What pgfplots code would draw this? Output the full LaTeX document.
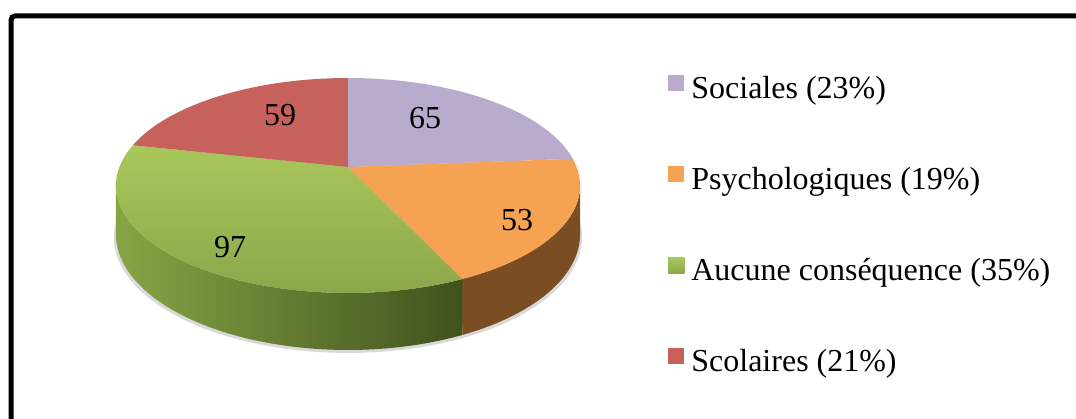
\documentclass[border=0pt]{standalone}
\usepackage{pgfplots}
\pgfplotsset{compat=1.18}
\usepackage{pgfplotstable}
\usepackage{fontspec}
\setmainfont{Liberation Serif}

\definecolor{cSoc}{HTML}{B9ABCE}
\definecolor{cPsy}{HTML}{F5A352}
\definecolor{cAucT}{HTML}{A9C85B}
\definecolor{cAucB}{HTML}{8CA64B}
\definecolor{cSco}{HTML}{C6615C}
\definecolor{cPsySide}{HTML}{7A4D22}
\definecolor{cAucSideL}{HTML}{87A545}
\definecolor{cAucSideR}{HTML}{3F511D}

\pgfplotstableread{
label value
Sociales 65
Psychologiques 53
Aucune 97
Scolaires 59
}\piedata

\pgfplotstablegetelem{0}{value}\of\piedata \let\vA\pgfplotsretval
\pgfplotstablegetelem{1}{value}\of\piedata \let\vB\pgfplotsretval
\pgfplotstablegetelem{2}{value}\of\piedata \let\vC\pgfplotsretval
\pgfplotstablegetelem{3}{value}\of\piedata \let\vD\pgfplotsretval

\pgfmathsetmacro\tot{\vA+\vB+\vC+\vD}
\pgfmathsetmacro\aA{90}
\pgfmathsetmacro\aB{\aA-360*(\vA/\tot)}
\pgfmathsetmacro\aC{\aB-360*(\vB/\tot)}
\pgfmathsetmacro\aD{\aC-360*(\vC/\tot)}
\pgfmathsetmacro\aE{\aD-360*(\vD/\tot)}
\pgfmathsetmacro\aCx{\aC+0.8}

% projection of the tilted disc (pixel units, y up)
\def\cx{348}
\def\cy{251}
\def\RA{228.6}
\def\RB{104.3}
\def\kk{0.1721}
\def\hh{47.2}
\pgfmathsetmacro\sR{-asin(\kk)}
\pgfmathsetmacro\sL{-180+asin(\kk)}

% top face of a slice: #1 style, angles #2 < #3
\newcommand\slice[3]{%
  \addplot[#1, draw=none, domain=#2:#3, samples=90, variable=\t]
  ({\cx+\RA*cos(\t)/(1+\kk*sin(\t))},{\cy+\RB*sin(\t)/(1+\kk*sin(\t))})
  -- (axis cs:\cx,\cy) -- cycle;
}
% side band of a slice: #1 style, angles #2 < #3
\newcommand\side[3]{%
  \addplot[#1, draw=none, forget plot, domain=0:2, samples=241, variable=\t,
    declare function={ph(\s)=(\s<=1)*(#2+(#3-#2)*\s)+(\s>1)*(#3+(#2-#3)*(\s-1));
                      dz(\s)=(\s>1)*\hh;}]
  ({\cx+\RA*cos(ph(\t))/(1+\kk*sin(ph(\t)))},
   {\cy+(\RB*sin(ph(\t))-dz(\t))/(1+\kk*sin(ph(\t)))}) -- cycle;
}

\begin{document}
\begin{tikzpicture}
\begin{axis}[
  scale only axis, width=538pt, height=209pt,
  xmin=0, xmax=1076, ymin=0, ymax=418,
  axis lines=none, ticks=none, clip=false,
  legend image code/.code={\fill[#1] (0pt,-0.5pt) rectangle (8pt,7.5pt); \path (0pt,0pt) -- (11.5pt,0pt);},
  legend cell align=left,
  legend style={at={(axis description cs:0.6208,0.823)}, anchor=north west,
    draw=none, fill=none, inner sep=0pt, row sep=29.5pt,
    nodes={inner sep=0pt, text height=12pt, text depth=4pt},
    font=\fontsize{16}{19}\selectfont},
]
% shadow
\addplot[fill=black!15, draw=none, forget plot, domain=0:360, samples=120, variable=\t]
  ({\cx+(\RA+2)*cos(\t)/(1+\kk*sin(\t))},{\cy-3+(\RB*sin(\t)-\hh)/(1+\kk*sin(\t))}) -- cycle;
% sides
\side{left color=cAucSideL, right color=cAucSideR}{\sL}{\aCx}
\side{fill=cPsySide}{\aC}{\sR}
% top faces
\slice{fill=cSoc}{\aB}{\aA}
\slice{fill=cPsy}{\aC}{\aB}
\slice{top color=cAucT, bottom color=cAucB}{\aD}{\aC}
\slice{fill=cSco}{\aE}{\aD}
\legend{Sociales (23\%), Psychologiques (19\%), Aucune conséquence (35\%), Scolaires (21\%)}
% value labels
\node[font=\fontsize{16}{19}\selectfont] at (axis cs:425,300) {\vA};
\node[font=\fontsize{16}{19}\selectfont] at (axis cs:517,198) {\vB};
\node[font=\fontsize{16}{19}\selectfont] at (axis cs:230,171) {\vC};
\node[font=\fontsize{16}{19}\selectfont] at (axis cs:280,303) {\vD};
% frame
\draw[line width=2.5pt, rounded corners=2pt] (axis cs:1090,402) -- (axis cs:11,402) -- (axis cs:11,-10);
\end{axis}
\pgfresetboundingbox
\path (current axis.south west) rectangle (current axis.north east);
\end{tikzpicture}
\end{document}
